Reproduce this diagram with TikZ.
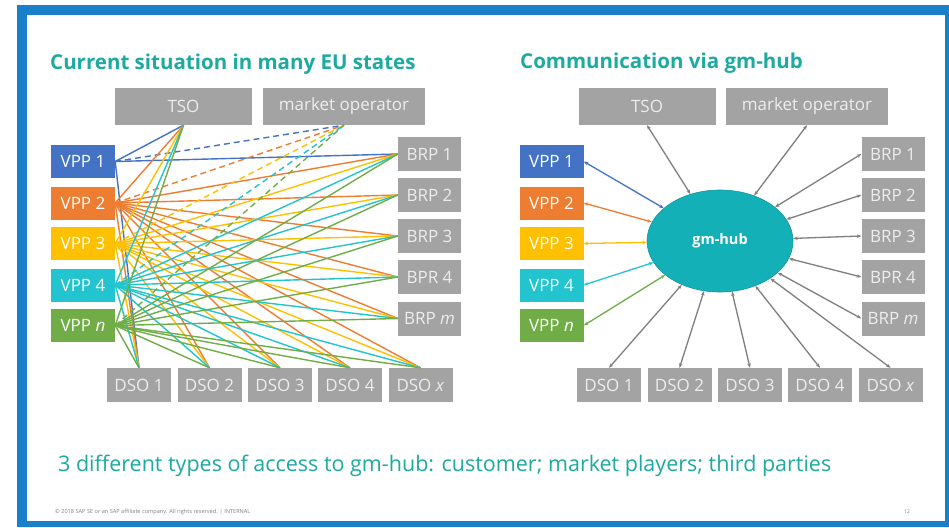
\documentclass[tikz,border=0pt]{standalone}
\usepackage{fontspec}
\setmainfont{Open Sans}
\usetikzlibrary{arrows.meta,shapes.geometric}
\definecolor{cblue}{HTML}{4472C4}
\definecolor{corange}{HTML}{ED7D31}
\definecolor{cyellow}{HTML}{FFC000}
\definecolor{ccyan}{HTML}{22C4CF}
\definecolor{cgreen}{HTML}{70AD47}
\definecolor{boxgray}{HTML}{A3A3A3}
\definecolor{boxtext}{HTML}{EDEDED}
\definecolor{arrgray}{HTML}{7F7F7F}
\definecolor{hubcol}{HTML}{14B0B8}
\definecolor{titlecol}{HTML}{1DAAA0}
\definecolor{framecol}{HTML}{1A80CC}
\begin{document}
\begin{tikzpicture}[x=1pt,y=-1pt,
  gbox/.style={fill=boxgray,text=boxtext,inner sep=0pt,font=\fontsize{17}{17}\selectfont},
  vbox/.style={fill=#1,text=white,inner sep=0pt,minimum width=64pt,minimum height=33pt,font=\fontsize{17}{17}\selectfont},
  bbox/.style={gbox,minimum width=63pt,minimum height=34pt},
  dbox/.style={gbox,minimum width=64pt,minimum height=34pt},
  tbox/.style={gbox,minimum width=137pt,minimum height=37pt},
  mbox/.style={gbox,minimum width=162pt,minimum height=37pt},
  link/.style={line width=1.4pt},
  dlink/.style={line width=1.4pt,dash pattern=on 6pt off 4pt},
  arr/.style={line width=1.3pt,{Stealth[length=4.5pt,width=3.5pt]}-{Stealth[length=4.5pt,width=3.5pt]}},
  title/.style={font=\fontsize{20.5}{20.5}\selectfont\bfseries,text=titlecol,anchor=base west,inner sep=0pt}
]
\useasboundingbox (0,0) rectangle (949,527);
\fill[white] (0,0) rectangle (949,527);
\fill[framecol] (17,5) rectangle (949,527);
\fill[white] (27,15) rectangle (945,521);

% titles
\node[title] (t1) at (50,69) {Current situation in many EU states};
\node[title] (t2) at (520,68) {Communication via gm-hub};

% ---------- left diagram ----------
\node[tbox] (ltso) at (183.5,106.5) {TSO};
\node[mbox] (lmo) at (344,106.5) {market operator};
\node[vbox=cblue]   (lv1) at (83,161.5) {VPP 1};
\node[vbox=corange] (lv2) at (83,203) {VPP 2};
\node[vbox=cyellow] (lv3) at (83,243.5) {VPP 3};
\node[vbox=ccyan]   (lv4) at (83,285) {VPP 4};
\node[vbox=cgreen]  (lv5) at (83,325.5) {VPP \textit{n}};
\node[bbox] (lb1) at (429.5,154) {BRP 1};
\node[bbox] (lb2) at (429.5,195) {BRP 2};
\node[bbox] (lb3) at (429.5,236) {BRP 3};
\node[bbox] (lb4) at (429.5,277) {BPR 4};
\node[bbox] (lb5) at (429.5,318.5) {BRP \textit{m}};
\node[dbox] (ld1) at (139,385) {DSO 1};
\node[dbox] (ld2) at (209.5,385) {DSO 2};
\node[dbox] (ld3) at (280,385) {DSO 3};
\node[dbox] (ld4) at (350,385) {DSO 4};
\node[dbox] (ld5) at (420.5,385) {DSO \textit{x}};

\draw[link,cblue] (lv1.east) -- (ltso.south);
\draw[dlink,cblue] (lv1.east) -- (lmo.south);
\draw[link,cblue] (lv1.east) -- (lb1.west);
\draw[link,cblue] (lv1.east) -- (ld1.north);
\foreach \i/\c in {2/corange,3/cyellow,4/ccyan,5/cgreen}{
  \draw[link,\c] (lv\i.east) -- (ltso.south);
  \draw[dlink,\c] (lv\i.east) -- (lmo.south);
  \foreach \j in {1,...,5}{
    \draw[link,\c] (lv\i.east) -- (lb\j.west);
    \draw[link,\c] (lv\i.east) -- (ld\j.north);
  }
}

% ---------- right diagram ----------
\node[tbox] (rtso) at (647,106.5) {TSO};
\node[mbox] (rmo) at (807,106.5) {market operator};
\node[vbox=cblue]   (rv1) at (551.5,161.5) {VPP 1};
\node[vbox=corange] (rv2) at (551.5,203) {VPP 2};
\node[vbox=cyellow] (rv3) at (551.5,243.5) {VPP 3};
\node[vbox=ccyan]   (rv4) at (551.5,285) {VPP 4};
\node[vbox=cgreen]  (rv5) at (551.5,325.5) {VPP \textit{n}};
\node[bbox] (rb1) at (893,154) {BRP 1};
\node[bbox] (rb2) at (893,195) {BRP 2};
\node[bbox] (rb3) at (893,236) {BRP 3};
\node[bbox] (rb4) at (893,277) {BPR 4};
\node[bbox] (rb5) at (893,318.5) {BRP \textit{m}};
\node[dbox] (rd1) at (609,385) {DSO 1};
\node[dbox] (rd2) at (679.5,385) {DSO 2};
\node[dbox] (rd3) at (750,385) {DSO 3};
\node[dbox] (rd4) at (820,385) {DSO 4};
\node[dbox] (rd5) at (890.5,385) {DSO \textit{x}};
\node[ellipse,fill=hubcol,draw=hubcol!85!black,line width=0.6pt,minimum width=146pt,minimum height=102pt,inner sep=0pt,text=white,font=\fontsize{14.5}{14.5}\selectfont\bfseries] (hub) at (720,241) {gm-hub};

\foreach \i/\c in {1/cblue,2/corange,3/cyellow,4/ccyan,5/cgreen}{
  \draw[arr,\c] (rv\i.east) -- (hub);
}
\draw[arr,arrgray] (rtso.south) -- (hub);
\draw[arr,arrgray] (rmo.south) -- (hub);
\foreach \j in {1,...,5}{
  \draw[arr,arrgray] (rb\j.west) -- (hub);
  \draw[arr,arrgray] (rd\j.north) -- (hub);
}

% bottom text
\node[font=\fontsize{21.5}{21.5}\selectfont,text=titlecol,anchor=base west,inner sep=0pt] (bt) at (58,471) {3 different types of access to gm-hub: customer; market players; third parties};
\node[font=\fontsize{5.6}{5.6}\selectfont,text=gray,anchor=west,inner sep=0pt] (ft) at (55,512) {© 2018 SAP SE or an SAP affiliate company. All rights reserved. \textbar\ INTERNAL};
\node[font=\fontsize{5}{5}\selectfont,text=gray,inner sep=0pt] (pg) at (907,512) {12};
\end{tikzpicture}
\end{document}
